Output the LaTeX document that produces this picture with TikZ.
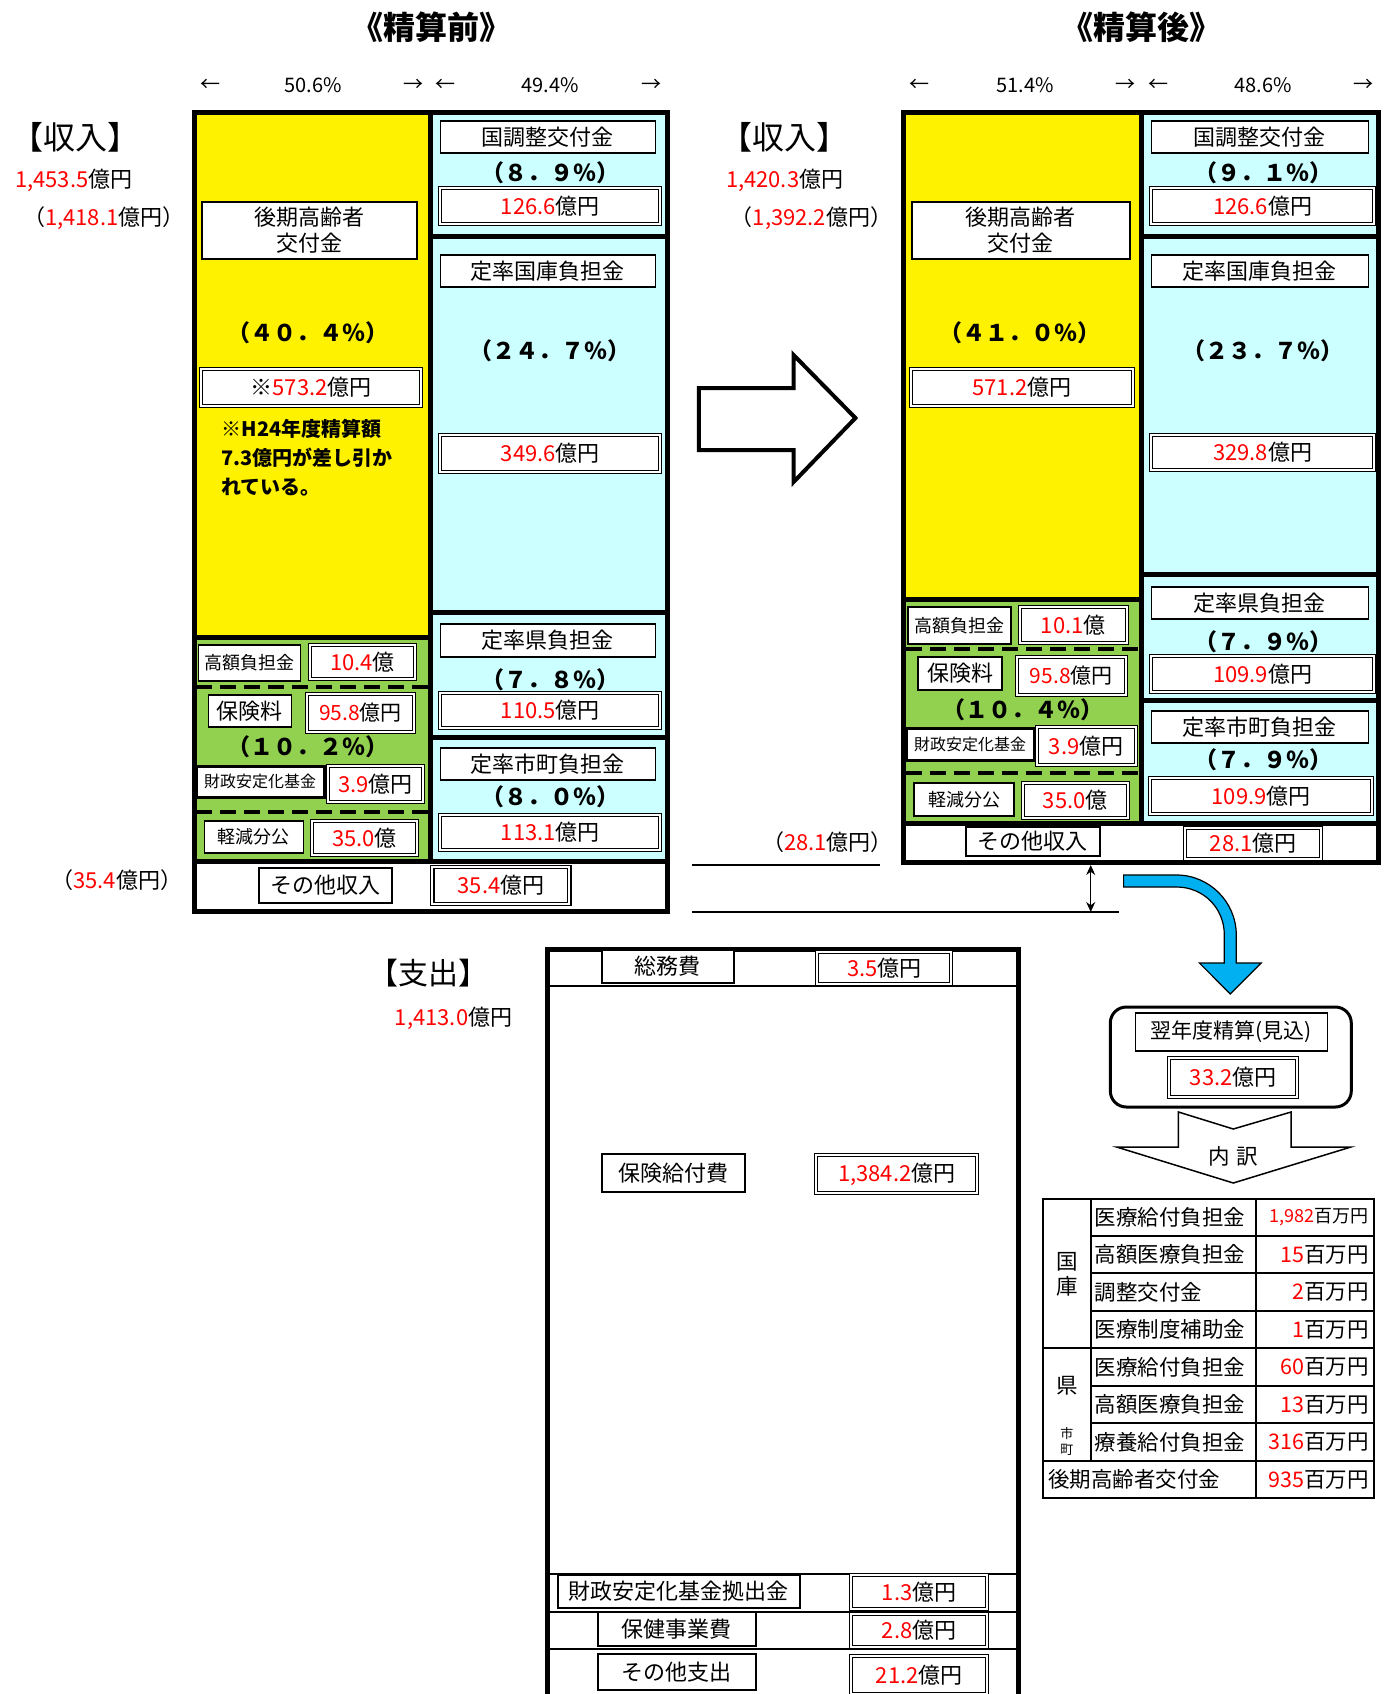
\documentclass[tikz,border=0pt]{standalone}
\usepackage{fontspec}
\setmainfont{Noto Sans CJK JP}
\usepackage{xcolor}
\usepackage{tikz}
\usetikzlibrary{arrows.meta}
\colorlet{koukicolor}{yellow}
\definecolor{kokucolor}{HTML}{CCFFFF}
\definecolor{hokencolor}{HTML}{92D050}
\definecolor{flowcolor}{HTML}{00B0F0}
\colorlet{numcolor}{red}
\tikzset{
	lab/.style={
		,draw
		,fill			= white
		,line width		= 1.3pt
		,inner sep		= 0pt
		,align			= center
		,font			= \fontsize{22}{26}\selectfont
	}
	,val/.style={
		,draw
		,double
		,double distance	= 2pt
		,line width		= 1.1pt
		,fill			= white
		,inner sep		= 0pt
		,font			= \fontsize{22}{25}\selectfont
	}
	,sz/.style 2 args	= {minimum width = #1, minimum height = #2}
	,smalllab/.style	= {font = \fontsize{18}{20}\selectfont}
	,tinylab/.style		= {font = \fontsize{16}{18}\selectfont}
	,pct/.style			= {inner sep = 0pt, font = \fontsize{23}{26}\selectfont\bfseries}
	,note/.style		= {inner sep = 0pt, align = left, font = \fontsize{20}{29}\selectfont\bfseries}
	,midashi/.style		= {inner sep = 0pt, font = \fontsize{32}{36}\selectfont\bfseries}
	,kubun/.style		= {inner sep = 0pt, font = \fontsize{32}{36}\selectfont}
	,goukei/.style		= {inner sep = 0pt, font = \fontsize{22}{25}\selectfont}
	,wariai/.style		= {inner sep = 0pt, font = \fontsize{20}{22}\selectfont}
	,tabtext/.style		= {inner sep = 0pt, font = \fontsize{21.5}{25}\selectfont}
	,framerule/.style	= {line width = 5pt}
	,thinrule/.style	= {line width = 2pt}
	,dashrule/.style	= {line width = 4pt, dash pattern = on 16pt off 8pt}
}
\begin{document}
\begin{tikzpicture}[x=0.997pt, y=-1pt]
	\useasboundingbox (0,0) rectangle (1393,1694);

	% the headings
	\node[midashi] (mae) at (433,27) {《精算前》};
	\node[midashi] (ato) at (1145,27) {《精算後》};
	\node[wariai] (mae-wari1) at (314,85) {50.6\%};
	\node[wariai] (mae-wari2) at (552,85) {49.4\%};
	\node[wariai] (ato-wari1) at (1028,85) {51.4\%};
	\node[wariai] (ato-wari2) at (1267,85) {48.6\%};
	\foreach \x/\s [count=\i] in {211/←,415/→,447/←,653/→,922/←,1129/→,1162/←,1368/→}{
		\node[wariai] (yaji\i) at (\x,85) {\s};
	}

	% the totals
	\node[kubun] (mae-shunyu) at (76,137) {【収入】};
	\node[goukei] (mae-gk) at (74,180) {\textcolor{numcolor}{1,453.5}億円};
	\node[goukei] (mae-gk2) at (104,218) {（\textcolor{numcolor}{1,418.1}億円）};
	\node[goukei] (mae-sonota-g) at (117,880) {（\textcolor{numcolor}{35.4}億円）};
	\node[kubun] (ato-shunyu) at (787,137) {【収入】};
	\node[goukei] (ato-gk) at (787,180) {\textcolor{numcolor}{1,420.3}億円};
	\node[goukei] (ato-gk2) at (814,218) {（\textcolor{numcolor}{1,392.2}億円）};
	\node[goukei] (ato-sonota-g) at (830,842) {（\textcolor{numcolor}{28.1}億円）};

	% NOTE: the blocks before
	\fill[koukicolor] (195,112) rectangle (432,637);
	\fill[hokencolor] (195,637) rectangle (432,861);
	\fill[kokucolor] (432,112) rectangle (670,861);
	\draw[framerule] (195,112) rectangle (670,911);
	\draw[framerule] (432,112) -- (432,861);
	\draw[framerule] (195,637) -- (432,637);
	\foreach \y in {236,612,737}{
		\draw[framerule] (432,\y) -- (670,\y);
	}
	\draw[framerule] (195,861) -- (670,861);
	\foreach \y in {687,812}{
		\draw[dashrule] (197,\y) -- (430,\y);
	}

	% NOTE: the blocks after
	\fill[koukicolor] (906,112) rectangle (1145,599);
	\fill[hokencolor] (906,599) rectangle (1145,823);
	\fill[kokucolor] (1145,112) rectangle (1383,823);
	\draw[framerule] (906,112) rectangle (1383,862);
	\draw[framerule] (1145,112) -- (1145,823);
	\draw[framerule] (906,599) -- (1145,599);
	\foreach \y in {236,574,700}{
		\draw[framerule] (1145,\y) -- (1383,\y);
	}
	\draw[framerule] (906,823) -- (1383,823);
	\foreach \y in {649,773}{
		\draw[dashrule] (909,\y) -- (1143,\y);
	}

	% the entries before
	\node[lab, sz={215}{57}] (mae-kouki) at (310.5,230.5) {後期高齢者\\交付金};
	\node[pct] (mae-kouki-p) at (309,333) {（４０．４％）};
	\node[val, sz={220}{37}] (mae-kouki-v) at (312,387.5) {※\textcolor{numcolor}{573.2}億円};
	\node[note, anchor=north west] (mae-chui) at (222,419) {※H24年度精算額\\7.3億円が差し引か\\れている。};
	\node[lab, sz={215}{32}] (mae-chosei) at (549.5,137) {国調整交付金};
	\node[pct] (mae-chosei-p) at (552,173) {（８．９％）};
	\node[val, sz={220}{36}] (mae-chosei-v) at (552,206) {\textcolor{numcolor}{126.6}億円};
	\node[lab, sz={215}{32}] (mae-kokko) at (549.5,271) {定率国庫負担金};
	\node[pct] (mae-kokko-p) at (552,351) {（２４．７％）};
	\node[val, sz={220}{37}] (mae-kokko-v) at (552,453.5) {\textcolor{numcolor}{349.6}億円};
	\node[lab, sz={215}{33}] (mae-ken) at (549.5,640.5) {定率県負担金};
	\node[pct] (mae-ken-p) at (552,680) {（７．８％）};
	\node[val, sz={220}{35}] (mae-ken-v) at (552,710.5) {\textcolor{numcolor}{110.5}億円};
	\node[lab, sz={215}{32}] (mae-shi) at (549.5,764) {定率市町負担金};
	\node[pct] (mae-shi-p) at (552,797) {（８．０％）};
	\node[val, sz={220}{35}] (mae-shi-v) at (552,832.5) {\textcolor{numcolor}{113.1}億円};
	\node[lab, smalllab, sz={102}{36}] (mae-kougaku) at (250,663) {高額負担金};
	\node[val, sz={105}{34}] (mae-kougaku-v) at (363.5,662) {\textcolor{numcolor}{10.4}億};
	\node[lab, sz={83}{32}] (mae-hoken) at (250.5,711) {保険料};
	\node[val, sz={107}{38}, font=\fontsize{21}{24}\selectfont] (mae-hoken-v) at (361.5,713) {\textcolor{numcolor}{95.8}億円};
	\node[pct] (mae-hoken-p) at (309,747) {（１０．２％）};
	\node[lab, tinylab, line width=3pt, sz={128}{31}] (mae-zaisei) at (261,781.5) {財政安定化基金};
	\node[val, sz={95}{36}] (mae-zaisei-v) at (376.5,784) {\textcolor{numcolor}{3.9}億円};
	\node[lab, smalllab, sz={99}{32}] (mae-keigen) at (254.5,837) {軽減分公};
	\node[val, sz={105}{34}] (mae-keigen-v) at (365.5,838) {\textcolor{numcolor}{35.0}億};
	\node[lab, sz={133}{35}] (mae-sonota) at (326.5,885.5) {その他収入};
	\node[val, sz={137}{37}] (mae-sonota-v) at (502.5,885.5) {\textcolor{numcolor}{35.4}億円};

	% the entries after
	\node[lab, sz={218}{57}] (ato-kouki) at (1024,230.5) {後期高齢者\\交付金};
	\node[pct] (ato-kouki-p) at (1023,333) {（４１．０％）};
	\node[val, sz={222}{37}] (ato-kouki-v) at (1025,387.5) {\textcolor{numcolor}{571.2}億円};
	\node[lab, sz={217}{32}] (ato-chosei) at (1263.5,137) {国調整交付金};
	\node[pct] (ato-chosei-p) at (1267,173) {（９．１％）};
	\node[val, sz={223}{36}] (ato-chosei-v) at (1266.5,206) {\textcolor{numcolor}{126.6}億円};
	\node[lab, sz={217}{32}] (ato-kokko) at (1263.5,271) {定率国庫負担金};
	\node[pct] (ato-kokko-p) at (1267,351) {（２３．７％）};
	\node[val, sz={223}{35}] (ato-kokko-v) at (1266.5,452.5) {\textcolor{numcolor}{329.8}億円};
	\node[lab, sz={217}{32}] (ato-ken) at (1263.5,603) {定率県負担金};
	\node[pct] (ato-ken-p) at (1267,642) {（７．９％）};
	\node[val, sz={223}{36}] (ato-ken-v) at (1266.5,674) {\textcolor{numcolor}{109.9}億円};
	\node[lab, sz={217}{32}] (ato-shi) at (1263.5,727) {定率市町負担金};
	\node[pct] (ato-shi-p) at (1267,760) {（７．９％）};
	\node[val, sz={222}{36}] (ato-shi-v) at (1265,796) {\textcolor{numcolor}{109.9}億円};
	\node[lab, smalllab, sz={103}{37}] (ato-kougaku) at (962.5,625.5) {高額負担金};
	\node[val, sz={107}{36}] (ato-kougaku-v) at (1076.5,625) {\textcolor{numcolor}{10.1}億};
	\node[lab, sz={84}{33}] (ato-hoken) at (963,673.5) {保険料};
	\node[val, sz={109}{38}, font=\fontsize{21}{24}\selectfont] (ato-hoken-v) at (1074.5,676) {\textcolor{numcolor}{95.8}億円};
	\node[pct] (ato-hoken-p) at (1026,710) {（１０．４％）};
	\node[lab, tinylab, line width=3pt, sz={128}{32}] (ato-zaisei) at (973,744) {財政安定化基金};
	\node[val, sz={99}{38}] (ato-zaisei-v) at (1089.5,746) {\textcolor{numcolor}{3.9}億円};
	\node[lab, smalllab, sz={100}{33}] (ato-keigen) at (967,799.5) {軽減分公};
	\node[val, sz={105}{35}] (ato-keigen-v) at (1078.5,800.5) {\textcolor{numcolor}{35.0}億};
	\node[lab, sz={134}{29}] (ato-sonota) at (1036,841.5) {その他収入};
	\node[val, sz={136}{31}] (ato-sonota-v) at (1257,843.5) {\textcolor{numcolor}{28.1}億円};

	% the arrows
	\draw[line width=4pt, fill=white, line join=miter]
		(701,388) -- (796,388) -- (796,355) -- (858,418) -- (796,482) -- (796,450) -- (701,450) -- cycle;
	\draw[thinrule] (694,865) -- (883,865);
	\draw[thinrule] (694,912) -- (1122,912);
	\coordinate (sa-ue) at (1094,865);
	\coordinate (sa-shita) at (1094,912);
	\draw[{Stealth[length=10pt, width=9pt]}-{Stealth[length=10pt, width=9pt]}, line width=1pt] (sa-ue) -- (sa-shita);
	\filldraw[fill=flowcolor, line width=1.2pt]
		(1127,875) -- (1180,875) .. controls (1213,875) and (1240,902) .. (1240,935)
		-- (1240,963) -- (1265,963) -- (1234,994) -- (1203,963) -- (1228,963) -- (1228,935)
		.. controls (1228,908) and (1207,887) .. (1180,887) -- (1127,887) -- cycle;

	% the next year box
	\node[draw, rounded corners=16pt, line width=3pt, sz={241}{100}] (yokunen) at (1234.5,1057) {};
	\node[lab, font=\fontsize{21}{24}\selectfont, sz={192}{38}] (yokunen-t) at (1235,1032) {翌年度精算(見込)};
	\node[val, sz={128}{39}] (yokunen-v) at (1237,1077.5) {\textcolor{numcolor}{33.2}億円};
	\draw[line width=1.5pt, fill=white, line join=miter]
		(1182,1112) -- (1237,1129) -- (1295,1112) -- (1295,1147) -- (1355,1147)
		-- (1237,1183) -- (1120,1147) -- (1182,1147) -- cycle;
	\node[tabtext] (uchiwake) at (1237,1156) {内\hspace{7pt}訳};

	% NOTE: the table rules
	\draw[thinrule] (1046,1199) rectangle (1378,1498);
	\draw[thinrule] (1094,1199) -- (1094,1461);
	\draw[thinrule] (1260,1199) -- (1260,1498);
	\foreach \y in {1236,1273,1311,1386,1423}{
		\draw[thinrule] (1094,\y) -- (1378,\y);
	}
	\foreach \y in {1348,1461}{
		\draw[thinrule] (1046,\y) -- (1378,\y);
	}

	% the table entries
	\node[tabtext, align=center, font=\fontsize{21.5}{25}\selectfont] (kokko) at (1070,1274) {国\\庫};
	\node[tabtext] (ken) at (1070,1386) {県};
	\node[tabtext, align=center, font=\fontsize{13}{16}\selectfont] (shicho) at (1070,1442) {市\\町};
	\foreach \y/\t [count=\i] in {1217.5/医療給付負担金,1254.5/高額医療負担金,1292/調整交付金,1329.5/医療制度補助金,1367/医療給付負担金,1404.5/高額医療負担金,1442/療養給付負担金}{
		\node[tabtext, anchor=west] (koumoku\i) at (1098,\y) {\t};
	}
	\node[tabtext, anchor=west] (koumoku8) at (1051,1479.5) {後期高齢者交付金};
	\node[tabtext, anchor=east, font=\fontsize{18}{22}\selectfont] (kingaku1) at (1373,1217.5) {\textcolor{numcolor}{1,982}百万円};
	\foreach \y/\v [count=\i from 2] in {1254.5/15,1292/2,1329.5/1,1367/60,1404.5/13,1442/316,1479.5/935}{
		\node[tabtext, anchor=east] (kingaku\i) at (1373,\y) {\textcolor{numcolor}{\v}百万円};
	}

	% the expenses
	\node[kubun, font=\fontsize{30}{34}\selectfont] (shishutsu) at (430,973) {【支出】};
	\node[goukei] (shishutsu-gk) at (455,1018) {\textcolor{numcolor}{1,413.0}億円};
	\draw[framerule] (549,949) rectangle (1022,1730);
	\foreach \y in {986,1574,1612,1649}{
		\draw[thinrule] (549,\y) -- (1022,\y);
	}
	\node[lab, sz={132}{33}] (somu) at (670,966.5) {総務費};
	\node[val, sz={134}{32}] (somu-v) at (887,968) {\textcolor{numcolor}{3.5}億円};
	\node[lab, sz={143}{38}] (kyufu) at (675.5,1173) {保険給付費};
	\node[val, sz={161}{38}] (kyufu-v) at (899.5,1174) {\textcolor{numcolor}{1,384.2}億円};
	\node[lab, sz={242}{33}] (kyoshutsu) at (681,1591.5) {財政安定化基金拠出金};
	\node[val, sz={136}{34}] (kyoshutsu-v) at (922,1592) {\textcolor{numcolor}{1.3}億円};
	\node[lab, sz={158}{34}] (hokenjigyo) at (679,1629) {保健事業費};
	\node[val, sz={136}{33}] (hokenjigyo-v) at (922,1630.5) {\textcolor{numcolor}{2.8}億円};
	\node[lab, sz={158}{36}] (sonota-shi) at (679,1672) {その他支出};
	\node[val, sz={136}{38}] (sonota-shi-v) at (922,1675) {\textcolor{numcolor}{21.2}億円};
\end{tikzpicture}
\end{document}
